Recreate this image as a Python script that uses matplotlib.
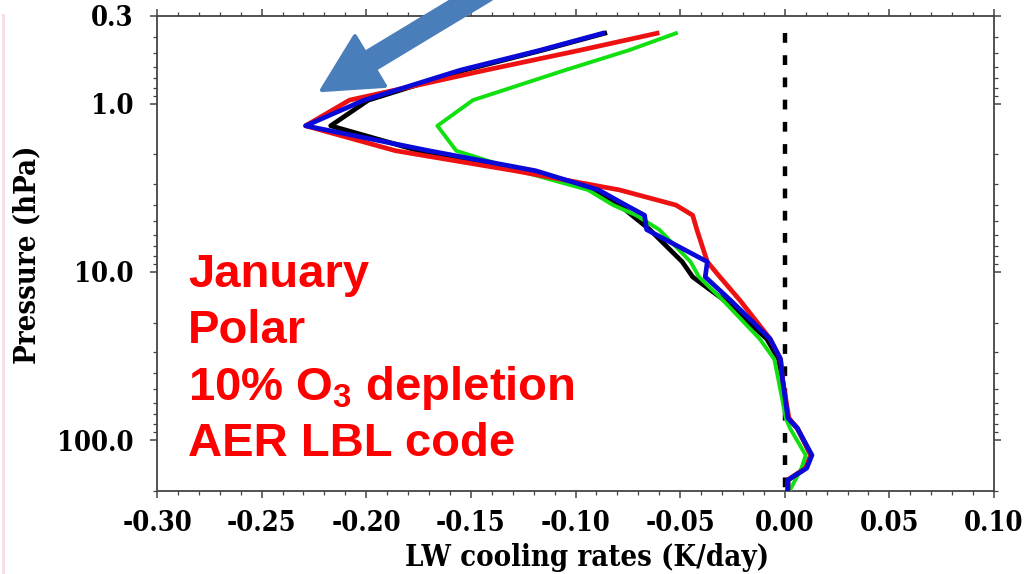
import numpy as np
import matplotlib
matplotlib.use("Agg")
import matplotlib.pyplot as plt
from matplotlib import font_manager
from matplotlib.ticker import FixedLocator, LogLocator, NullFormatter, MultipleLocator
from matplotlib.patches import FancyArrow
from matplotlib.lines import Line2D
from matplotlib.transforms import IdentityTransform

# ---------------- data ----------------
pressure = [0.38, 0.48, 0.63, 0.95, 1.35, 1.9, 2.5, 3.25, 4.0, 4.6, 5.6, 8.7, 10.7,
            14.7, 25, 33, 44, 74, 85, 123, 147, 173, 198]
black = [-0.086, -0.116, -0.153, -0.199, -0.217, -0.175, -0.122, -0.091, -0.079, -0.073,
         -0.0645, -0.049, -0.044, -0.029, -0.0086, -0.003, -0.001, 0.0015, 0.006, 0.0125,
         0.010, 0.0015, 0.0015]
green = [-0.052, -0.0746, -0.105, -0.149, -0.166, -0.157, -0.127, -0.0940, -0.082, -0.071,
         -0.060, -0.045, -0.041, -0.0296, -0.012, -0.005, -0.003, 0.0005, 0.0025, 0.010,
         0.008, 0.005, 0.0025]
red = [-0.061, -0.098, -0.143, -0.208, -0.229, -0.186, -0.129, -0.079, -0.052, -0.044,
       -0.042, -0.037, -0.031, -0.0215, -0.007, -0.002, -0.001, 0.002, 0.006, 0.0125,
       0.010, 0.0015, 0.0015]
blue = [-0.087, -0.117, -0.155, -0.201, -0.229, -0.170, -0.119, -0.089, -0.076, -0.067,
        -0.066, -0.037, -0.038, -0.026, -0.007, -0.002, -0.001, 0.0015, 0.006, 0.013,
        0.0105, 0.0015, 0.0015]
zero_line_p = [0.38, 200]
xticks = [-0.30, -0.25, -0.20, -0.15, -0.10, -0.05, 0.00, 0.05, 0.10]
xticklabels = ["-0.30", "-0.25", "-0.20", "-0.15", "-0.10", "-0.05", "0.00", "0.05", "0.10"]
yticks = [0.3, 1.0, 10.0, 100.0]
yticklabels = ["0.3", "1.0", "10.0", "100.0"]
annotation_lines = ["January", "Polar", "10% O$_3$ depletion", "AER LBL code"]

# ---------------- style ----------------
plt.rcParams['axes.unicode_minus'] = False
plt.rcParams['mathtext.fontset'] = 'custom'
plt.rcParams['mathtext.rm'] = 'Liberation Sans:bold'
plt.rcParams['mathtext.default'] = 'rm'

# serif font: prefer a condensed bold serif if installed
cond_fp = font_manager.FontProperties(family='DejaVu Serif', weight='bold', stretch='condensed')
cond_path = font_manager.findfont(cond_fp, fallback_to_default=False)
if 'Condensed' in cond_path:
    serif = dict(family='DejaVu Serif', weight='bold', stretch='condensed')
    tick_size, label_size = 19.5, 21
else:
    serif = dict(family='DejaVu Serif', weight='bold')
    tick_size, label_size = 17.5, 19.5

W, H = 1026, 574
fig = plt.figure(figsize=(W / 100, H / 100), dpi=100)
fig.patch.set_facecolor('white')

L, R, T, B = 157, 994, 16, 491
ax = fig.add_axes([L / W, 1 - B / H, (R - L) / W, (B - T) / H])

lw = 3.4
ax.plot(black, pressure, color='black', lw=lw, zorder=3)
ax.plot(green, pressure, color='#10e010', lw=2.8, zorder=4)
ax.plot(red, pressure, color='#ee1111', lw=lw, zorder=5)
ax.plot(blue, pressure, color='#0a0ad8', lw=lw, zorder=6)
ax.plot([0, 0], zero_line_p, color='black', lw=3.2, dashes=(2.2, 2.8),
        dash_capstyle='butt', zorder=2)

ax.set_yscale('log')
ax.set_ylim(201, 0.3)
ax.set_xlim(-0.30, 0.10)

tick_font = dict(size=tick_size, **serif)
ax.set_xticks(xticks)
ax.set_xticklabels(xticklabels, fontdict=tick_font)
ax.xaxis.set_minor_locator(MultipleLocator(0.01))
ax.yaxis.set_major_locator(FixedLocator(yticks))
ax.set_yticklabels(yticklabels, fontdict=tick_font)
ax.yaxis.set_minor_locator(LogLocator(base=10, subs=np.arange(2, 10)))
ax.yaxis.set_minor_formatter(NullFormatter())

for s in ax.spines.values():
    s.set_color('#444444')
    s.set_linewidth(1.3)
ax.tick_params(which='both', direction='out', top=True, right=True, color='#444444',
               labeltop=False, labelright=False)
ax.tick_params(which='major', length=5, width=1.1)
ax.tick_params(which='minor', length=3, width=0.9)
ax.tick_params(axis='x', which='major', pad=9)
ax.tick_params(axis='y', which='major', pad=12)

fig.text(587 / W, 1 - 557 / H, "LW cooling rates (K/day)", ha='center', va='center',
         size=label_size, **serif)
fig.text(27 / W, 1 - 255 / H, "Pressure (hPa)", ha='center', va='center',
         rotation=90, size=label_size, **serif)

baselines = [287, 343, 400, 456]
for txt, yb in zip(annotation_lines, baselines):
    fig.text(188 / W, 1 - yb / H, txt, ha='left', va='baseline', color='#ff0000',
             family='Liberation Sans', weight='bold', size=34)

# blue pointer arrow (display pixel coordinates)
tip = (322, H - 90)
tail = (486, H + 9)
arrow = FancyArrow(tail[0], tail[1], tip[0] - tail[0], tip[1] - tail[1], width=19,
                   head_width=58, head_length=56, length_includes_head=True,
                   color='#4a7ebb', lw=3, joinstyle='round', transform=IdentityTransform())
fig.patches.append(arrow)

# faint pink edge line at far left
fig.lines.append(Line2D([2.5, 2.5], [0, H - 15], color='#f9dcea', lw=2,
                        transform=IdentityTransform()))

fig.savefig('out.png', dpi=100)
